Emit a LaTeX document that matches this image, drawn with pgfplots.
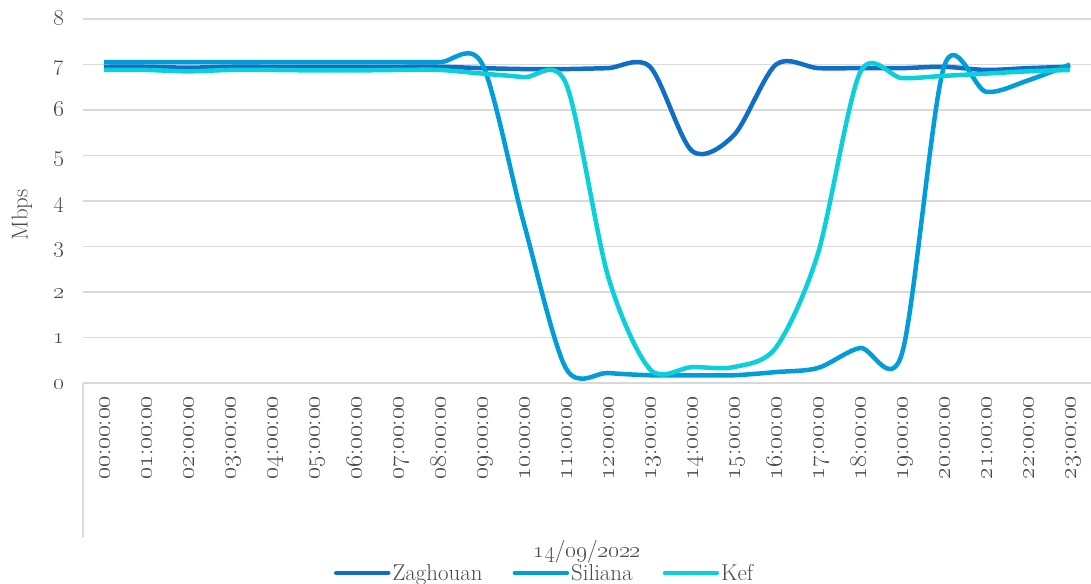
\documentclass[border=0pt]{standalone}
\usepackage{pgfplots}
\pgfplotsset{compat=1.18}
\usepackage{fix-cm}
\definecolor{zag}{HTML}{0F6FC6}
\definecolor{sil}{HTML}{009DD9}
\definecolor{kef}{HTML}{0BD0D9}
\definecolor{txt}{HTML}{4A4A4A}
\definecolor{grd}{HTML}{D9D9D9}
\newcommand\os[1]{\oldstylenums{#1}}
\newcommand\hh[1]{\os{#1}:\os{00}:\os{00}}
\pgfplotstableread{
h zag sil kef
0 6.95 7.05 6.88
1 6.95 7.05 6.88
2 6.93 7.05 6.85
3 6.95 7.05 6.88
4 6.95 7.05 6.88
5 6.95 7.05 6.87
6 6.95 7.05 6.87
7 6.95 7.05 6.88
8 6.95 7.05 6.88
9 6.92 7.02 6.80
10 6.90 3.50 6.72
11 6.90 0.32 6.58
12 6.92 0.22 2.35
13 6.95 0.17 0.30
14 5.10 0.17 0.35
15 5.45 0.17 0.35
16 7.00 0.24 0.78
17 6.92 0.33 2.85
18 6.92 0.77 6.82
19 6.92 0.65 6.70
20 6.95 6.95 6.75
21 6.88 6.40 6.80
22 6.92 6.65 6.85
23 6.95 7.00 6.88
}\datatable
\begin{document}
\begin{tikzpicture}[font=\fontsize{23}{26}\selectfont, every node/.append style={text=txt}]
\begin{axis}[
  scale only axis,
  width=1008bp, height=364bp,
  xmin=-0.5, xmax=23.5, ymin=0, ymax=8,
  axis line style={draw=none},
  major tick length=0pt,
  ymajorgrids, grid style={grd, line width=1.5bp},
  ytick={0,...,8},
  yticklabels={\os{0},\os{1},\os{2},\os{3},\os{4},\os{5},\os{6},\os{7},\os{8}},
  yticklabel style={xshift=-15bp, yshift=-4bp, text height=0.7em, text depth=0.2em},
  xtick={0,...,23},
  xticklabels={\hh{00},\hh{01},\hh{02},\hh{03},\hh{04},\hh{05},\hh{06},\hh{07},\hh{08},\hh{09},\hh{10},\hh{11},\hh{12},\hh{13},\hh{14},\hh{15},\hh{16},\hh{17},\hh{18},\hh{19},\hh{20},\hh{21},\hh{22},\hh{23}},
  xticklabel style={rotate=90, anchor=east, xshift=-10bp, yshift=-4bp, font=\fontsize{25}{28}\selectfont, text height=0.7em, text depth=0.2em},
  xlabel={\os{14}/\os{09}/\os{2022}},
  xlabel style={at={(axis description cs:0.5,-0.464)}, anchor=center},
  ylabel={Mbps},
  ylabel style={at={(axis description cs:-0.0605,0.462)}, anchor=center, rotate=0},
  legend columns=3,
  legend style={draw=none, fill=none, at={(axis description cs:0.458,-0.522)}, anchor=center,
    /tikz/every even column/.append style={column sep=28bp}, font=\fontsize{23}{26}\selectfont},
  legend image code/.code={\draw[#1, line width=4.5bp, line cap=round] (0,0) -- (52bp,0);},
  every axis plot/.append style={line width=4.5bp, smooth, no markers},
  clip=false,
]
\addplot[zag] table[x=h, y=zag] {\datatable};
\addplot[sil] table[x=h, y=sil] {\datatable};
\addplot[kef] table[x=h, y=kef] {\datatable};
\legend{Zaghouan,Siliana,Kef}
\draw[grd, line width=1.5bp] (rel axis cs:0,0) -- (rel axis cs:0,-0.423);
\end{axis}
\pgfresetboundingbox
\path (current axis.south west) ++(-83bp,-201bp) rectangle ([yshift=19bp]current axis.north east);
\end{tikzpicture}
\end{document}
